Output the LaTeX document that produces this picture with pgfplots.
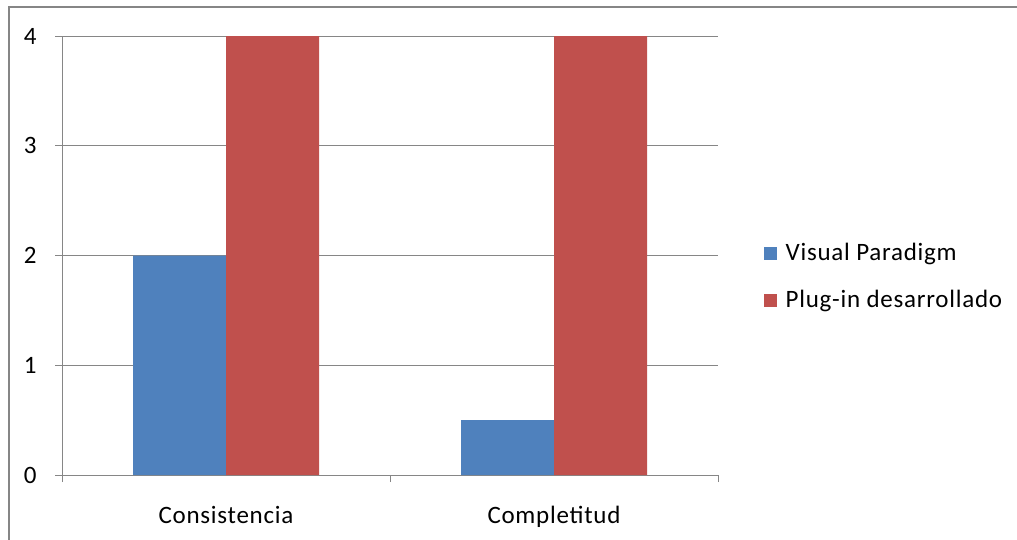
\documentclass[border=0pt]{standalone}
\usepackage{pgfplots}
\pgfplotsset{compat=1.18}
\usepackage{fontspec}
\setmainfont{Carlito}[LetterSpace=3]
\definecolor{vpblue}{HTML}{4F81BD}
\definecolor{pired}{HTML}{C0504D}
\definecolor{axgray}{HTML}{868686}
\begin{document}
\fontsize{25pt}{30pt}\selectfont
\begin{tikzpicture}
\useasboundingbox (0,0) rectangle (1017pt,539pt);
\draw[axgray, line width=1.2pt] (9pt,-20pt) rectangle (1040pt,532pt);
\begin{axis}[
  at={(62pt,64pt)}, anchor=south west,
  scale only axis, width=656pt, height=439pt,
  xmin=-0.5, xmax=1.5, ymin=0, ymax=4,
  ybar=0pt, bar width=93pt,
  xtick={0,1}, xticklabels={Consistencia,Completitud},
  major x tick style={draw=none},
  extra x ticks={-0.5,0.5,1.5}, extra x tick labels={},
  extra x tick style={major x tick style={draw=axgray, line width=1pt}, major tick length=7pt, grid=none},
  ytick={0,1,2,3,4},
  ymajorgrids, grid style={axgray, line width=1pt},
  tick align=outside, major tick length=7pt,
  tick style={axgray, line width=1pt},
  axis x line*=bottom, axis y line*=left,
  axis line style={axgray, line width=1pt, -},
  /pgf/number format/assume math mode=true,
  tick label style={font=\fontsize{25pt}{30pt}\selectfont, black},
  xticklabel style={yshift=-16pt},
  yticklabel style={xshift=-10pt},
  legend style={draw=none, fill=none, at={(1.07,0.451)}, anchor=west,
    font=\fontsize{25pt}{30pt}\selectfont, row sep=22pt, inner sep=0pt,
    legend cell align=left,
    /tikz/every odd column/.append style={column sep=6.5pt}},
  legend image code/.code={\fill[#1] (0pt,-6.5pt) rectangle (13pt,6.5pt);},
]
\addplot[fill=vpblue, draw=none] coordinates {(0,2) (1,0.5)};
\addplot[fill=pired, draw=none] coordinates {(0,4) (1,4)};
\legend{Visual Paradigm, Plug-in desarrollado}
\end{axis}
\end{tikzpicture}
\end{document}
